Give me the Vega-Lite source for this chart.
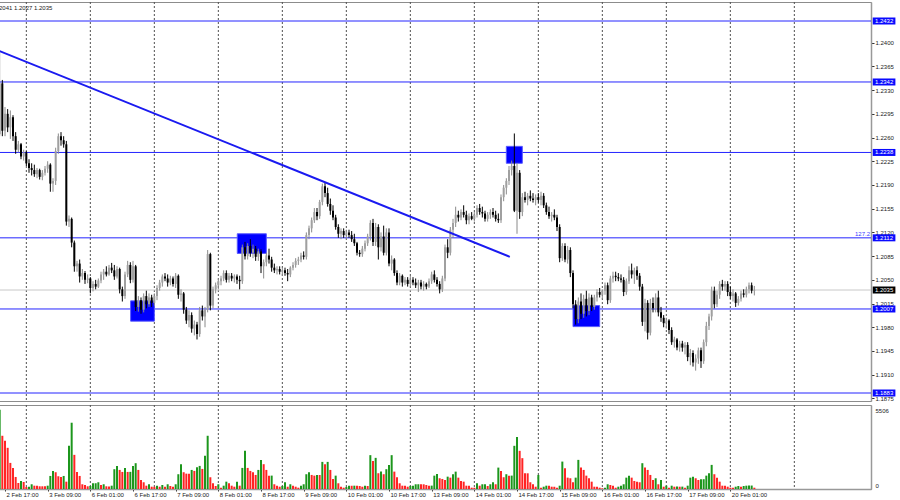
{
"$schema":"https://vega.github.io/schema/vega-lite/v6.json",
"padding":{"left":-6,"top":1,"right":0,"bottom":0},
"background":"white",
"spacing":2,
"config":{"view":{"stroke":"#8c8c8c","strokeWidth":1},"font":"Liberation Sans",
"axis":{"labelFont":"Liberation Sans","labelFontSize":6,"labelColor":"#1a1a1a","tickColor":"#333333","domain":false,"grid":false}},
"resolve":{"scale":{"x":"independent","y":"independent","color":"independent"}},
"datasets":{
"grid":[{"g":8},{"g":32},{"g":56},{"g":80},{"g":104},{"g":128},{"g":152},{"g":176},{"g":200},{"g":224},{"g":248},{"g":272},{"g":296}],
"levels":[{"p":1.2432,"t":"1.2432","k":"lvl"},{"p":1.2342,"t":"1.2342","k":"lvl"},{"p":1.2238,"t":"1.2238","k":"lvl"},{"p":1.2112,"t":"1.2112","k":"lvl"},{"p":1.2007,"t":"1.2007","k":"lvl"},{"p":1.1883,"t":"1.1883","k":"lvl"},{"p":1.2035,"t":"1.2035","k":"cur"}],
"boxes":[{"i1":47.1,"i2":56.0,"p1":1.2019,"p2":1.1989},{"i1":87.1,"i2":98.0,"p1":1.2118,"p2":1.2089},{"i1":188.0,"i2":194.0,"p1":1.2247,"p2":1.2222},{"i1":213.0,"i2":223.0,"p1":1.2012,"p2":1.1981}],
"trend":[{"i":-2.25,"p":1.2388},{"i":189.3,"p":1.2084}],
"bars":[
{"i":-2,"o":1.2265,"h":1.2387,"l":1.2262,"c":1.2340,"v":5506,"vd":"u"},
{"i":-1,"o":1.2340,"h":1.2345,"l":1.2262,"c":1.2270,"v":3694,"vd":"d"},
{"i":0,"o":1.2270,"h":1.2305,"l":1.2262,"c":1.2295,"v":3346,"vd":"d"},
{"i":1,"o":1.2295,"h":1.2302,"l":1.2268,"c":1.2275,"v":2858,"vd":"d"},
{"i":2,"o":1.2275,"h":1.2300,"l":1.2258,"c":1.2290,"v":1812,"vd":"d"},
{"i":3,"o":1.2290,"h":1.2293,"l":1.2255,"c":1.2262,"v":1464,"vd":"d"},
{"i":4,"o":1.2262,"h":1.2268,"l":1.2236,"c":1.2242,"v":836,"vd":"d"},
{"i":5,"o":1.2242,"h":1.2255,"l":1.2238,"c":1.2250,"v":418,"vd":"d"},
{"i":6,"o":1.2250,"h":1.2252,"l":1.2228,"c":1.2232,"v":558,"vd":"u"},
{"i":7,"o":1.2232,"h":1.2242,"l":1.2226,"c":1.2238,"v":488,"vd":"d"},
{"i":8,"o":1.2238,"h":1.2240,"l":1.2218,"c":1.2222,"v":140,"vd":"d"},
{"i":9,"o":1.2222,"h":1.2228,"l":1.2208,"c":1.2215,"v":160,"vd":"u"},
{"i":10,"o":1.2215,"h":1.2222,"l":1.2204,"c":1.2212,"v":328,"vd":"u"},
{"i":11,"o":1.2212,"h":1.2220,"l":1.2202,"c":1.2206,"v":230,"vd":"d"},
{"i":12,"o":1.2206,"h":1.2215,"l":1.2200,"c":1.2212,"v":230,"vd":"d"},
{"i":13,"o":1.2212,"h":1.2214,"l":1.2198,"c":1.2202,"v":188,"vd":"d"},
{"i":14,"o":1.2202,"h":1.2212,"l":1.2197,"c":1.2208,"v":188,"vd":"d"},
{"i":15,"o":1.2208,"h":1.2218,"l":1.2204,"c":1.2214,"v":188,"vd":"d"},
{"i":16,"o":1.2214,"h":1.2225,"l":1.2208,"c":1.2220,"v":230,"vd":"u"},
{"i":17,"o":1.2220,"h":1.2222,"l":1.2180,"c":1.2192,"v":906,"vd":"u"},
{"i":18,"o":1.2192,"h":1.2200,"l":1.2180,"c":1.2196,"v":1255,"vd":"u"},
{"i":19,"o":1.2196,"h":1.2245,"l":1.2190,"c":1.2240,"v":1164,"vd":"d"},
{"i":20,"o":1.2240,"h":1.2266,"l":1.2236,"c":1.2262,"v":885,"vd":"d"},
{"i":21,"o":1.2262,"h":1.2268,"l":1.2248,"c":1.2256,"v":836,"vd":"d"},
{"i":22,"o":1.2256,"h":1.2262,"l":1.2245,"c":1.2250,"v":906,"vd":"u"},
{"i":23,"o":1.2250,"h":1.2255,"l":1.2130,"c":1.2136,"v":509,"vd":"d"},
{"i":24,"o":1.2136,"h":1.2145,"l":1.2128,"c":1.2140,"v":2997,"vd":"u"},
{"i":25,"o":1.2140,"h":1.2142,"l":1.2098,"c":1.2105,"v":4600,"vd":"u"},
{"i":26,"o":1.2105,"h":1.2108,"l":1.2062,"c":1.2070,"v":2370,"vd":"d"},
{"i":27,"o":1.2070,"h":1.2078,"l":1.2062,"c":1.2074,"v":1185,"vd":"d"},
{"i":28,"o":1.2074,"h":1.2080,"l":1.2046,"c":1.2055,"v":906,"vd":"d"},
{"i":29,"o":1.2055,"h":1.2066,"l":1.2050,"c":1.2060,"v":328,"vd":"d"},
{"i":30,"o":1.2060,"h":1.2063,"l":1.2044,"c":1.2050,"v":279,"vd":"d"},
{"i":31,"o":1.2050,"h":1.2058,"l":1.2045,"c":1.2052,"v":188,"vd":"d"},
{"i":32,"o":1.2052,"h":1.2054,"l":1.2030,"c":1.2038,"v":209,"vd":"u"},
{"i":33,"o":1.2038,"h":1.2048,"l":1.2033,"c":1.2044,"v":397,"vd":"u"},
{"i":34,"o":1.2044,"h":1.2050,"l":1.2036,"c":1.2040,"v":400,"vd":"u"},
{"i":35,"o":1.2040,"h":1.2052,"l":1.2038,"c":1.2049,"v":467,"vd":"u"},
{"i":36,"o":1.2049,"h":1.2062,"l":1.2045,"c":1.2058,"v":279,"vd":"d"},
{"i":37,"o":1.2058,"h":1.2066,"l":1.2050,"c":1.2062,"v":328,"vd":"u"},
{"i":38,"o":1.2062,"h":1.2070,"l":1.2055,"c":1.2058,"v":188,"vd":"d"},
{"i":39,"o":1.2058,"h":1.2072,"l":1.2056,"c":1.2068,"v":180,"vd":"d"},
{"i":40,"o":1.2068,"h":1.2075,"l":1.2060,"c":1.2064,"v":230,"vd":"u"},
{"i":41,"o":1.2064,"h":1.2072,"l":1.2050,"c":1.2055,"v":1373,"vd":"u"},
{"i":42,"o":1.2055,"h":1.2070,"l":1.2052,"c":1.2066,"v":1603,"vd":"u"},
{"i":43,"o":1.2066,"h":1.2068,"l":1.2030,"c":1.2036,"v":1324,"vd":"d"},
{"i":44,"o":1.2036,"h":1.2040,"l":1.2018,"c":1.2026,"v":1185,"vd":"d"},
{"i":45,"o":1.2026,"h":1.2062,"l":1.2022,"c":1.2058,"v":1464,"vd":"u"},
{"i":46,"o":1.2058,"h":1.2078,"l":1.2054,"c":1.2072,"v":1185,"vd":"d"},
{"i":47,"o":1.2072,"h":1.2076,"l":1.2045,"c":1.2050,"v":1190,"vd":"u"},
{"i":48,"o":1.2050,"h":1.2078,"l":1.2046,"c":1.2070,"v":1603,"vd":"u"},
{"i":49,"o":1.2070,"h":1.2072,"l":1.2004,"c":1.2010,"v":1791,"vd":"u"},
{"i":50,"o":1.2010,"h":1.2026,"l":1.2003,"c":1.2020,"v":1324,"vd":"d"},
{"i":51,"o":1.2020,"h":1.2024,"l":1.2000,"c":1.2006,"v":627,"vd":"d"},
{"i":52,"o":1.2006,"h":1.2030,"l":1.2002,"c":1.2026,"v":467,"vd":"d"},
{"i":53,"o":1.2026,"h":1.2034,"l":1.2008,"c":1.2014,"v":230,"vd":"d"},
{"i":54,"o":1.2014,"h":1.2030,"l":1.2010,"c":1.2024,"v":328,"vd":"u"},
{"i":55,"o":1.2024,"h":1.2028,"l":1.2010,"c":1.2016,"v":160,"vd":"d"},
{"i":56,"o":1.2016,"h":1.2030,"l":1.2012,"c":1.2026,"v":155,"vd":"d"},
{"i":57,"o":1.2026,"h":1.2042,"l":1.2020,"c":1.2038,"v":230,"vd":"u"},
{"i":58,"o":1.2038,"h":1.2050,"l":1.2034,"c":1.2046,"v":160,"vd":"d"},
{"i":59,"o":1.2046,"h":1.2058,"l":1.2040,"c":1.2055,"v":279,"vd":"u"},
{"i":60,"o":1.2055,"h":1.2060,"l":1.2048,"c":1.2052,"v":160,"vd":"d"},
{"i":61,"o":1.2052,"h":1.2058,"l":1.2040,"c":1.2046,"v":328,"vd":"u"},
{"i":62,"o":1.2046,"h":1.2056,"l":1.2042,"c":1.2052,"v":209,"vd":"d"},
{"i":63,"o":1.2052,"h":1.2055,"l":1.2040,"c":1.2044,"v":160,"vd":"d"},
{"i":64,"o":1.2044,"h":1.2060,"l":1.2038,"c":1.2056,"v":328,"vd":"u"},
{"i":65,"o":1.2056,"h":1.2058,"l":1.2022,"c":1.2028,"v":1025,"vd":"u"},
{"i":66,"o":1.2028,"h":1.2036,"l":1.2018,"c":1.2030,"v":1722,"vd":"u"},
{"i":67,"o":1.2030,"h":1.2032,"l":1.2000,"c":1.2006,"v":1164,"vd":"d"},
{"i":68,"o":1.2006,"h":1.2010,"l":1.1985,"c":1.1990,"v":1066,"vd":"d"},
{"i":69,"o":1.1990,"h":1.2005,"l":1.1980,"c":1.1998,"v":1060,"vd":"d"},
{"i":70,"o":1.1998,"h":1.2002,"l":1.1972,"c":1.1978,"v":1324,"vd":"u"},
{"i":71,"o":1.1978,"h":1.1990,"l":1.1968,"c":1.1984,"v":1255,"vd":"d"},
{"i":72,"o":1.1984,"h":1.1988,"l":1.1962,"c":1.1970,"v":1512,"vd":"u"},
{"i":73,"o":1.1970,"h":1.2010,"l":1.1966,"c":1.2005,"v":1603,"vd":"u"},
{"i":74,"o":1.2005,"h":1.2012,"l":1.1990,"c":1.1996,"v":1394,"vd":"d"},
{"i":75,"o":1.1996,"h":1.2010,"l":1.1980,"c":1.2006,"v":2300,"vd":"u"},
{"i":76,"o":1.2006,"h":1.2094,"l":1.2002,"c":1.2088,"v":3694,"vd":"u"},
{"i":77,"o":1.2088,"h":1.2090,"l":1.2005,"c":1.2012,"v":816,"vd":"d"},
{"i":78,"o":1.2012,"h":1.2040,"l":1.2008,"c":1.2036,"v":397,"vd":"d"},
{"i":79,"o":1.2036,"h":1.2046,"l":1.2030,"c":1.2042,"v":209,"vd":"d"},
{"i":80,"o":1.2042,"h":1.2052,"l":1.2036,"c":1.2048,"v":328,"vd":"u"},
{"i":81,"o":1.2048,"h":1.2056,"l":1.2042,"c":1.2052,"v":91,"vd":"d"},
{"i":82,"o":1.2052,"h":1.2064,"l":1.2048,"c":1.2060,"v":230,"vd":"u"},
{"i":83,"o":1.2060,"h":1.2064,"l":1.2046,"c":1.2050,"v":509,"vd":"u"},
{"i":84,"o":1.2050,"h":1.2060,"l":1.2046,"c":1.2056,"v":397,"vd":"d"},
{"i":85,"o":1.2056,"h":1.2060,"l":1.2048,"c":1.2052,"v":230,"vd":"d"},
{"i":86,"o":1.2052,"h":1.2058,"l":1.2046,"c":1.2055,"v":160,"vd":"d"},
{"i":87,"o":1.2055,"h":1.2058,"l":1.2044,"c":1.2050,"v":509,"vd":"u"},
{"i":88,"o":1.2050,"h":1.2056,"l":1.2036,"c":1.2048,"v":230,"vd":"d"},
{"i":89,"o":1.2048,"h":1.2102,"l":1.2044,"c":1.2098,"v":1464,"vd":"u"},
{"i":90,"o":1.2098,"h":1.2106,"l":1.2080,"c":1.2085,"v":2649,"vd":"u"},
{"i":91,"o":1.2085,"h":1.2104,"l":1.2080,"c":1.2100,"v":1464,"vd":"d"},
{"i":92,"o":1.2100,"h":1.2110,"l":1.2084,"c":1.2090,"v":1255,"vd":"d"},
{"i":93,"o":1.2090,"h":1.2102,"l":1.2082,"c":1.2096,"v":1164,"vd":"d"},
{"i":94,"o":1.2096,"h":1.2100,"l":1.2078,"c":1.2084,"v":976,"vd":"d"},
{"i":95,"o":1.2084,"h":1.2096,"l":1.2078,"c":1.2092,"v":1324,"vd":"u"},
{"i":96,"o":1.2092,"h":1.2095,"l":1.2060,"c":1.2070,"v":2021,"vd":"u"},
{"i":97,"o":1.2070,"h":1.2080,"l":1.2052,"c":1.2076,"v":1722,"vd":"d"},
{"i":98,"o":1.2076,"h":1.2090,"l":1.2070,"c":1.2086,"v":1324,"vd":"d"},
{"i":99,"o":1.2086,"h":1.2096,"l":1.2074,"c":1.2080,"v":927,"vd":"d"},
{"i":100,"o":1.2080,"h":1.2084,"l":1.2062,"c":1.2068,"v":930,"vd":"u"},
{"i":101,"o":1.2068,"h":1.2074,"l":1.2060,"c":1.2064,"v":328,"vd":"d"},
{"i":102,"o":1.2064,"h":1.2070,"l":1.2058,"c":1.2066,"v":230,"vd":"d"},
{"i":103,"o":1.2066,"h":1.2070,"l":1.2058,"c":1.2062,"v":160,"vd":"d"},
{"i":104,"o":1.2062,"h":1.2068,"l":1.2056,"c":1.2064,"v":209,"vd":"u"},
{"i":105,"o":1.2064,"h":1.2068,"l":1.2056,"c":1.2060,"v":467,"vd":"u"},
{"i":106,"o":1.2060,"h":1.2066,"l":1.2048,"c":1.2058,"v":160,"vd":"d"},
{"i":107,"o":1.2058,"h":1.2070,"l":1.2054,"c":1.2068,"v":328,"vd":"u"},
{"i":108,"o":1.2068,"h":1.2076,"l":1.2064,"c":1.2072,"v":230,"vd":"d"},
{"i":109,"o":1.2072,"h":1.2082,"l":1.2068,"c":1.2078,"v":160,"vd":"d"},
{"i":110,"o":1.2078,"h":1.2084,"l":1.2072,"c":1.2080,"v":91,"vd":"d"},
{"i":111,"o":1.2080,"h":1.2090,"l":1.2076,"c":1.2086,"v":230,"vd":"u"},
{"i":112,"o":1.2086,"h":1.2092,"l":1.2080,"c":1.2084,"v":328,"vd":"u"},
{"i":113,"o":1.2084,"h":1.2120,"l":1.2080,"c":1.2116,"v":1025,"vd":"u"},
{"i":114,"o":1.2116,"h":1.2130,"l":1.2110,"c":1.2126,"v":1164,"vd":"u"},
{"i":115,"o":1.2126,"h":1.2142,"l":1.2120,"c":1.2138,"v":976,"vd":"d"},
{"i":116,"o":1.2138,"h":1.2156,"l":1.2134,"c":1.2150,"v":927,"vd":"d"},
{"i":117,"o":1.2150,"h":1.2156,"l":1.2138,"c":1.2144,"v":976,"vd":"u"},
{"i":118,"o":1.2144,"h":1.2168,"l":1.2140,"c":1.2165,"v":970,"vd":"d"},
{"i":119,"o":1.2165,"h":1.2192,"l":1.2160,"c":1.2188,"v":1882,"vd":"u"},
{"i":120,"o":1.2188,"h":1.2194,"l":1.2172,"c":1.2178,"v":1722,"vd":"d"},
{"i":121,"o":1.2178,"h":1.2186,"l":1.2158,"c":1.2162,"v":1882,"vd":"u"},
{"i":122,"o":1.2162,"h":1.2170,"l":1.2146,"c":1.2152,"v":1324,"vd":"d"},
{"i":123,"o":1.2152,"h":1.2160,"l":1.2138,"c":1.2142,"v":697,"vd":"d"},
{"i":124,"o":1.2142,"h":1.2146,"l":1.2124,"c":1.2128,"v":927,"vd":"u"},
{"i":125,"o":1.2128,"h":1.2132,"l":1.2112,"c":1.2118,"v":397,"vd":"d"},
{"i":126,"o":1.2118,"h":1.2126,"l":1.2110,"c":1.2122,"v":160,"vd":"d"},
{"i":127,"o":1.2122,"h":1.2126,"l":1.2112,"c":1.2116,"v":91,"vd":"d"},
{"i":128,"o":1.2116,"h":1.2124,"l":1.2110,"c":1.2120,"v":140,"vd":"u"},
{"i":129,"o":1.2120,"h":1.2124,"l":1.2112,"c":1.2116,"v":230,"vd":"u"},
{"i":130,"o":1.2116,"h":1.2122,"l":1.2106,"c":1.2110,"v":225,"vd":"d"},
{"i":131,"o":1.2110,"h":1.2118,"l":1.2100,"c":1.2104,"v":230,"vd":"u"},
{"i":132,"o":1.2104,"h":1.2106,"l":1.2086,"c":1.2090,"v":225,"vd":"d"},
{"i":133,"o":1.2090,"h":1.2094,"l":1.2084,"c":1.2088,"v":209,"vd":"d"},
{"i":134,"o":1.2088,"h":1.2100,"l":1.2084,"c":1.2096,"v":160,"vd":"d"},
{"i":135,"o":1.2096,"h":1.2108,"l":1.2092,"c":1.2104,"v":230,"vd":"u"},
{"i":136,"o":1.2104,"h":1.2118,"l":1.2100,"c":1.2114,"v":209,"vd":"d"},
{"i":137,"o":1.2114,"h":1.2138,"l":1.2108,"c":1.2134,"v":2349,"vd":"u"},
{"i":138,"o":1.2134,"h":1.2140,"l":1.2100,"c":1.2106,"v":1952,"vd":"d"},
{"i":139,"o":1.2106,"h":1.2134,"l":1.2100,"c":1.2128,"v":2161,"vd":"u"},
{"i":140,"o":1.2128,"h":1.2132,"l":1.2080,"c":1.2098,"v":1094,"vd":"d"},
{"i":141,"o":1.2098,"h":1.2120,"l":1.2092,"c":1.2114,"v":1206,"vd":"u"},
{"i":142,"o":1.2114,"h":1.2130,"l":1.2086,"c":1.2090,"v":1025,"vd":"d"},
{"i":143,"o":1.2090,"h":1.2126,"l":1.2086,"c":1.2120,"v":1373,"vd":"u"},
{"i":144,"o":1.2120,"h":1.2126,"l":1.2070,"c":1.2074,"v":1673,"vd":"u"},
{"i":145,"o":1.2074,"h":1.2086,"l":1.2064,"c":1.2080,"v":2349,"vd":"u"},
{"i":146,"o":1.2080,"h":1.2082,"l":1.2056,"c":1.2060,"v":1206,"vd":"d"},
{"i":147,"o":1.2060,"h":1.2064,"l":1.2042,"c":1.2046,"v":816,"vd":"d"},
{"i":148,"o":1.2046,"h":1.2060,"l":1.2042,"c":1.2056,"v":397,"vd":"d"},
{"i":149,"o":1.2056,"h":1.2058,"l":1.2040,"c":1.2046,"v":230,"vd":"d"},
{"i":150,"o":1.2046,"h":1.2054,"l":1.2042,"c":1.2050,"v":225,"vd":"d"},
{"i":151,"o":1.2050,"h":1.2054,"l":1.2040,"c":1.2044,"v":160,"vd":"d"},
{"i":152,"o":1.2044,"h":1.2056,"l":1.2040,"c":1.2050,"v":209,"vd":"u"},
{"i":153,"o":1.2050,"h":1.2054,"l":1.2042,"c":1.2046,"v":230,"vd":"u"},
{"i":154,"o":1.2046,"h":1.2052,"l":1.2038,"c":1.2042,"v":328,"vd":"u"},
{"i":155,"o":1.2042,"h":1.2050,"l":1.2032,"c":1.2046,"v":330,"vd":"u"},
{"i":156,"o":1.2046,"h":1.2050,"l":1.2036,"c":1.2040,"v":328,"vd":"d"},
{"i":157,"o":1.2040,"h":1.2048,"l":1.2034,"c":1.2044,"v":325,"vd":"d"},
{"i":158,"o":1.2044,"h":1.2046,"l":1.2036,"c":1.2040,"v":279,"vd":"d"},
{"i":159,"o":1.2040,"h":1.2052,"l":1.2038,"c":1.2048,"v":230,"vd":"d"},
{"i":160,"o":1.2048,"h":1.2062,"l":1.2044,"c":1.2058,"v":235,"vd":"u"},
{"i":161,"o":1.2058,"h":1.2064,"l":1.2046,"c":1.2050,"v":927,"vd":"u"},
{"i":162,"o":1.2050,"h":1.2054,"l":1.2040,"c":1.2044,"v":1046,"vd":"u"},
{"i":163,"o":1.2044,"h":1.2048,"l":1.2030,"c":1.2036,"v":746,"vd":"d"},
{"i":164,"o":1.2036,"h":1.2056,"l":1.2032,"c":1.2052,"v":697,"vd":"d"},
{"i":165,"o":1.2052,"h":1.2102,"l":1.2048,"c":1.2098,"v":627,"vd":"d"},
{"i":166,"o":1.2098,"h":1.2110,"l":1.2082,"c":1.2090,"v":857,"vd":"u"},
{"i":167,"o":1.2090,"h":1.2128,"l":1.2086,"c":1.2124,"v":788,"vd":"d"},
{"i":168,"o":1.2124,"h":1.2140,"l":1.2112,"c":1.2134,"v":1025,"vd":"u"},
{"i":169,"o":1.2134,"h":1.2158,"l":1.2128,"c":1.2146,"v":1206,"vd":"u"},
{"i":170,"o":1.2146,"h":1.2152,"l":1.2136,"c":1.2142,"v":788,"vd":"d"},
{"i":171,"o":1.2142,"h":1.2154,"l":1.2138,"c":1.2150,"v":558,"vd":"d"},
{"i":172,"o":1.2150,"h":1.2160,"l":1.2142,"c":1.2146,"v":509,"vd":"d"},
{"i":173,"o":1.2146,"h":1.2152,"l":1.2132,"c":1.2138,"v":230,"vd":"d"},
{"i":174,"o":1.2138,"h":1.2148,"l":1.2132,"c":1.2144,"v":225,"vd":"d"},
{"i":175,"o":1.2144,"h":1.2150,"l":1.2138,"c":1.2140,"v":91,"vd":"d"},
{"i":176,"o":1.2140,"h":1.2150,"l":1.2136,"c":1.2146,"v":88,"vd":"d"},
{"i":177,"o":1.2146,"h":1.2160,"l":1.2142,"c":1.2156,"v":397,"vd":"u"},
{"i":178,"o":1.2156,"h":1.2162,"l":1.2146,"c":1.2150,"v":230,"vd":"d"},
{"i":179,"o":1.2150,"h":1.2158,"l":1.2142,"c":1.2148,"v":328,"vd":"u"},
{"i":180,"o":1.2148,"h":1.2152,"l":1.2136,"c":1.2140,"v":330,"vd":"u"},
{"i":181,"o":1.2140,"h":1.2150,"l":1.2136,"c":1.2146,"v":209,"vd":"d"},
{"i":182,"o":1.2146,"h":1.2154,"l":1.2140,"c":1.2150,"v":328,"vd":"u"},
{"i":183,"o":1.2150,"h":1.2156,"l":1.2142,"c":1.2146,"v":467,"vd":"u"},
{"i":184,"o":1.2146,"h":1.2152,"l":1.2136,"c":1.2140,"v":328,"vd":"d"},
{"i":185,"o":1.2140,"h":1.2148,"l":1.2134,"c":1.2138,"v":1485,"vd":"u"},
{"i":186,"o":1.2138,"h":1.2176,"l":1.2134,"c":1.2172,"v":1255,"vd":"d"},
{"i":187,"o":1.2172,"h":1.2190,"l":1.2166,"c":1.2186,"v":816,"vd":"d"},
{"i":188,"o":1.2186,"h":1.2200,"l":1.2176,"c":1.2196,"v":1025,"vd":"u"},
{"i":189,"o":1.2196,"h":1.2218,"l":1.2190,"c":1.2212,"v":927,"vd":"d"},
{"i":190,"o":1.2212,"h":1.2226,"l":1.2204,"c":1.2218,"v":930,"vd":"u"},
{"i":191,"o":1.2218,"h":1.2266,"l":1.2150,"c":1.2152,"v":2997,"vd":"u"},
{"i":192,"o":1.2152,"h":1.2222,"l":1.2118,"c":1.2208,"v":3603,"vd":"u"},
{"i":193,"o":1.2208,"h":1.2212,"l":1.2140,"c":1.2150,"v":2649,"vd":"d"},
{"i":194,"o":1.2150,"h":1.2178,"l":1.2144,"c":1.2172,"v":2140,"vd":"d"},
{"i":195,"o":1.2172,"h":1.2180,"l":1.2164,"c":1.2168,"v":1094,"vd":"d"},
{"i":196,"o":1.2168,"h":1.2178,"l":1.2160,"c":1.2174,"v":1090,"vd":"d"},
{"i":197,"o":1.2174,"h":1.2182,"l":1.2166,"c":1.2170,"v":467,"vd":"d"},
{"i":198,"o":1.2170,"h":1.2178,"l":1.2164,"c":1.2168,"v":328,"vd":"d"},
{"i":199,"o":1.2168,"h":1.2176,"l":1.2160,"c":1.2172,"v":160,"vd":"d"},
{"i":200,"o":1.2172,"h":1.2178,"l":1.2164,"c":1.2168,"v":976,"vd":"u"},
{"i":201,"o":1.2168,"h":1.2180,"l":1.2160,"c":1.2174,"v":91,"vd":"d"},
{"i":202,"o":1.2174,"h":1.2178,"l":1.2156,"c":1.2160,"v":160,"vd":"u"},
{"i":203,"o":1.2160,"h":1.2164,"l":1.2146,"c":1.2150,"v":230,"vd":"u"},
{"i":204,"o":1.2150,"h":1.2158,"l":1.2140,"c":1.2144,"v":225,"vd":"d"},
{"i":205,"o":1.2144,"h":1.2150,"l":1.2136,"c":1.2146,"v":160,"vd":"d"},
{"i":206,"o":1.2146,"h":1.2154,"l":1.2138,"c":1.2142,"v":155,"vd":"d"},
{"i":207,"o":1.2142,"h":1.2146,"l":1.2122,"c":1.2128,"v":91,"vd":"d"},
{"i":208,"o":1.2128,"h":1.2132,"l":1.2076,"c":1.2082,"v":230,"vd":"u"},
{"i":209,"o":1.2082,"h":1.2104,"l":1.2078,"c":1.2100,"v":1903,"vd":"u"},
{"i":210,"o":1.2100,"h":1.2104,"l":1.2076,"c":1.2080,"v":1443,"vd":"d"},
{"i":211,"o":1.2080,"h":1.2100,"l":1.2074,"c":1.2094,"v":788,"vd":"d"},
{"i":212,"o":1.2094,"h":1.2098,"l":1.2054,"c":1.2060,"v":746,"vd":"d"},
{"i":213,"o":1.2060,"h":1.2064,"l":1.2008,"c":1.2014,"v":467,"vd":"d"},
{"i":214,"o":1.2014,"h":1.2020,"l":1.1984,"c":1.1992,"v":788,"vd":"u"},
{"i":215,"o":1.1992,"h":1.2024,"l":1.1986,"c":1.2018,"v":2021,"vd":"u"},
{"i":216,"o":1.2018,"h":1.2030,"l":1.1992,"c":1.2000,"v":1485,"vd":"d"},
{"i":217,"o":1.2000,"h":1.2028,"l":1.1994,"c":1.2022,"v":1324,"vd":"d"},
{"i":218,"o":1.2022,"h":1.2034,"l":1.1996,"c":1.2004,"v":927,"vd":"d"},
{"i":219,"o":1.2004,"h":1.2030,"l":1.1998,"c":1.2024,"v":746,"vd":"d"},
{"i":220,"o":1.2024,"h":1.2028,"l":1.2004,"c":1.2010,"v":509,"vd":"d"},
{"i":221,"o":1.2010,"h":1.2028,"l":1.2006,"c":1.2024,"v":160,"vd":"d"},
{"i":222,"o":1.2024,"h":1.2036,"l":1.2018,"c":1.2032,"v":155,"vd":"d"},
{"i":223,"o":1.2032,"h":1.2038,"l":1.2024,"c":1.2028,"v":91,"vd":"d"},
{"i":224,"o":1.2028,"h":1.2036,"l":1.2022,"c":1.2034,"v":49,"vd":"d"},
{"i":225,"o":1.2034,"h":1.2046,"l":1.2028,"c":1.2042,"v":91,"vd":"u"},
{"i":226,"o":1.2042,"h":1.2046,"l":1.2014,"c":1.2020,"v":328,"vd":"u"},
{"i":227,"o":1.2020,"h":1.2056,"l":1.2016,"c":1.2052,"v":279,"vd":"d"},
{"i":228,"o":1.2052,"h":1.2062,"l":1.2046,"c":1.2056,"v":230,"vd":"d"},
{"i":229,"o":1.2056,"h":1.2062,"l":1.2048,"c":1.2054,"v":91,"vd":"d"},
{"i":230,"o":1.2054,"h":1.2060,"l":1.2048,"c":1.2052,"v":160,"vd":"u"},
{"i":231,"o":1.2052,"h":1.2058,"l":1.2046,"c":1.2050,"v":230,"vd":"u"},
{"i":232,"o":1.2050,"h":1.2054,"l":1.2026,"c":1.2032,"v":328,"vd":"u"},
{"i":233,"o":1.2032,"h":1.2052,"l":1.2028,"c":1.2048,"v":788,"vd":"u"},
{"i":234,"o":1.2048,"h":1.2070,"l":1.2044,"c":1.2064,"v":927,"vd":"u"},
{"i":235,"o":1.2064,"h":1.2074,"l":1.2052,"c":1.2058,"v":788,"vd":"d"},
{"i":236,"o":1.2058,"h":1.2068,"l":1.2044,"c":1.2064,"v":558,"vd":"d"},
{"i":237,"o":1.2064,"h":1.2070,"l":1.2050,"c":1.2056,"v":509,"vd":"d"},
{"i":238,"o":1.2056,"h":1.2060,"l":1.2034,"c":1.2040,"v":467,"vd":"d"},
{"i":239,"o":1.2040,"h":1.2044,"l":1.1982,"c":1.1988,"v":1791,"vd":"u"},
{"i":240,"o":1.1988,"h":1.2022,"l":1.1974,"c":1.2016,"v":1485,"vd":"d"},
{"i":241,"o":1.2016,"h":1.2020,"l":1.1962,"c":1.1972,"v":1324,"vd":"d"},
{"i":242,"o":1.1972,"h":1.2022,"l":1.1968,"c":1.2016,"v":976,"vd":"d"},
{"i":243,"o":1.2016,"h":1.2024,"l":1.2002,"c":1.2008,"v":627,"vd":"d"},
{"i":244,"o":1.2008,"h":1.2030,"l":1.2002,"c":1.2024,"v":746,"vd":"u"},
{"i":245,"o":1.2024,"h":1.2034,"l":1.1996,"c":1.2002,"v":328,"vd":"d"},
{"i":246,"o":1.2002,"h":1.2010,"l":1.1988,"c":1.1994,"v":627,"vd":"u"},
{"i":247,"o":1.1994,"h":1.1998,"l":1.1980,"c":1.1986,"v":160,"vd":"d"},
{"i":248,"o":1.1986,"h":1.1994,"l":1.1978,"c":1.1990,"v":230,"vd":"u"},
{"i":249,"o":1.1990,"h":1.1992,"l":1.1970,"c":1.1976,"v":91,"vd":"d"},
{"i":250,"o":1.1976,"h":1.1980,"l":1.1954,"c":1.1958,"v":230,"vd":"u"},
{"i":251,"o":1.1958,"h":1.1966,"l":1.1950,"c":1.1962,"v":160,"vd":"d"},
{"i":252,"o":1.1962,"h":1.1964,"l":1.1946,"c":1.1950,"v":165,"vd":"u"},
{"i":253,"o":1.1950,"h":1.1960,"l":1.1944,"c":1.1956,"v":160,"vd":"d"},
{"i":254,"o":1.1956,"h":1.1960,"l":1.1944,"c":1.1950,"v":165,"vd":"u"},
{"i":255,"o":1.1950,"h":1.1958,"l":1.1940,"c":1.1954,"v":91,"vd":"d"},
{"i":256,"o":1.1954,"h":1.1958,"l":1.1930,"c":1.1936,"v":230,"vd":"u"},
{"i":257,"o":1.1936,"h":1.1948,"l":1.1924,"c":1.1942,"v":788,"vd":"u"},
{"i":258,"o":1.1942,"h":1.1946,"l":1.1922,"c":1.1928,"v":857,"vd":"u"},
{"i":259,"o":1.1928,"h":1.1940,"l":1.1916,"c":1.1934,"v":746,"vd":"d"},
{"i":260,"o":1.1934,"h":1.1950,"l":1.1926,"c":1.1946,"v":627,"vd":"d"},
{"i":261,"o":1.1946,"h":1.1950,"l":1.1920,"c":1.1930,"v":676,"vd":"u"},
{"i":262,"o":1.1930,"h":1.1962,"l":1.1926,"c":1.1958,"v":680,"vd":"u"},
{"i":263,"o":1.1958,"h":1.1988,"l":1.1952,"c":1.1982,"v":927,"vd":"u"},
{"i":264,"o":1.1982,"h":1.2000,"l":1.1976,"c":1.1996,"v":1094,"vd":"u"},
{"i":265,"o":1.1996,"h":1.2040,"l":1.1990,"c":1.2034,"v":1673,"vd":"u"},
{"i":266,"o":1.2034,"h":1.2040,"l":1.2008,"c":1.2014,"v":1025,"vd":"d"},
{"i":267,"o":1.2014,"h":1.2034,"l":1.2010,"c":1.2028,"v":788,"vd":"d"},
{"i":268,"o":1.2028,"h":1.2048,"l":1.2022,"c":1.2044,"v":509,"vd":"d"},
{"i":269,"o":1.2044,"h":1.2050,"l":1.2034,"c":1.2040,"v":230,"vd":"d"},
{"i":270,"o":1.2040,"h":1.2048,"l":1.2034,"c":1.2044,"v":225,"vd":"d"},
{"i":271,"o":1.2044,"h":1.2048,"l":1.2026,"c":1.2032,"v":160,"vd":"d"},
{"i":272,"o":1.2032,"h":1.2040,"l":1.2022,"c":1.2026,"v":91,"vd":"d"},
{"i":273,"o":1.2026,"h":1.2036,"l":1.2018,"c":1.2030,"v":88,"vd":"d"},
{"i":274,"o":1.2030,"h":1.2032,"l":1.2010,"c":1.2016,"v":160,"vd":"u"},
{"i":275,"o":1.2016,"h":1.2026,"l":1.2012,"c":1.2022,"v":209,"vd":"u"},
{"i":276,"o":1.2022,"h":1.2034,"l":1.2018,"c":1.2030,"v":160,"vd":"d"},
{"i":277,"o":1.2030,"h":1.2036,"l":1.2024,"c":1.2028,"v":209,"vd":"u"},
{"i":278,"o":1.2028,"h":1.2040,"l":1.2024,"c":1.2036,"v":230,"vd":"u"},
{"i":279,"o":1.2036,"h":1.2046,"l":1.2030,"c":1.2042,"v":235,"vd":"u"},
{"i":280,"o":1.2042,"h":1.2046,"l":1.2030,"c":1.2034,"v":240,"vd":"u"},
{"i":281,"o":1.2034,"h":1.2041,"l":1.2027,"c":1.2035,"v":91,"vd":"d"}
]},
"vconcat":[
{"width":872,"height":399,
"resolve":{"axis":{"x":"independent","y":"independent"}},
"layer":[
{"data":{"name":"grid"},"mark":{"type":"rule","strokeDash":[2,2],"color":"#505050","strokeWidth":1},
 "encoding":{"x":{"field":"g","type":"quantitative","scale":{"domain":[-2.25,324.75],"nice":false,"zero":false},"axis":null}}},
{"data":{"name":"levels"},"mark":{"type":"rule","strokeWidth":1},
 "encoding":{"y":{"field":"p","type":"quantitative","scale":{"domain":[1.18712,1.246004],"nice":false,"zero":false},"axis":null},
 "color":{"condition":{"test":"datum.k=='cur'","value":"#c8c8c8"},"value":"#2424ff"}}},
{"data":{"name":"boxes"},"mark":{"type":"rect","fill":"#0000ff","stroke":"#5a5aff","strokeWidth":1},
 "encoding":{"x":{"field":"i1","type":"quantitative","scale":{"domain":[-2.25,324.75],"nice":false,"zero":false},"axis":null},"x2":{"field":"i2"},
 "y":{"field":"p1","type":"quantitative","scale":{"domain":[1.18712,1.246004],"nice":false,"zero":false},"axis":null},"y2":{"field":"p2"}}},
{"data":{"name":"bars"},"mark":{"type":"rule","strokeWidth":1},
 "encoding":{"x":{"field":"i","type":"quantitative","scale":{"domain":[-2.25,324.75],"nice":false,"zero":false},"axis":null},
 "y":{"field":"l","type":"quantitative","title":null,"scale":{"domain":[1.18712,1.246004],"nice":false,"zero":false},
  "axis":{"orient":"right","values":[1.1875,1.191,1.1945,1.198,1.2015,1.205,1.2085,1.212,1.2155,1.219,1.2225,1.226,1.2295,1.233,1.2365,1.24],"format":".4f","tickSize":3,"labelPadding":1,"labelFontSize":6,"zindex":0,"labelOverlap":false,"labelFlush":false,"domain":true,"domainColor":"#999999","domainWidth":1.5}},
 "y2":{"field":"h"},
 "color":{"condition":{"test":"datum.c>=datum.o","value":"#8a8a8a"},"value":"#000000"}}},
{"data":{"name":"bars"},"mark":{"type":"rule","strokeWidth":2,"strokeCap":"butt"},
 "encoding":{"x":{"field":"i","type":"quantitative","scale":{"domain":[-2.25,324.75],"nice":false,"zero":false},"axis":null},
 "y":{"field":"o","type":"quantitative","scale":{"domain":[1.18712,1.246004],"nice":false,"zero":false},"axis":null},
 "y2":{"field":"c"},
 "color":{"condition":{"test":"datum.c>=datum.o","value":"#a0a0a0"},"value":"#000000"}}},
{"data":{"name":"trend"},"mark":{"type":"line","strokeWidth":2,"color":"#1a1af0"},
 "encoding":{"x":{"field":"i","type":"quantitative","scale":{"domain":[-2.25,324.75],"nice":false,"zero":false},"axis":null},
 "y":{"field":"p","type":"quantitative","scale":{"domain":[1.18712,1.246004],"nice":false,"zero":false},"axis":null}}},
{"data":{"name":"levels"},"mark":{"type":"rule","strokeWidth":7,"strokeCap":"butt"},
 "encoding":{"x":{"datum":325.4,"type":"quantitative","scale":{"domain":[-2.25,324.75],"nice":false,"zero":false},"axis":null},"x2":{"datum":333.9},
 "y":{"field":"p","type":"quantitative","scale":{"domain":[1.18712,1.246004],"nice":false,"zero":false},"axis":null},
 "color":{"condition":{"test":"datum.k=='cur'","value":"#000000"},"value":"#0a0aff"}}},
{"data":{"name":"levels"},"mark":{"type":"text","color":"white","fontSize":6,"font":"Liberation Sans","align":"center","baseline":"middle"},
 "encoding":{"x":{"datum":329.65,"type":"quantitative","scale":{"domain":[-2.25,324.75],"nice":false,"zero":false},"axis":null},
 "y":{"field":"p","type":"quantitative","scale":{"domain":[1.18712,1.246004],"nice":false,"zero":false},"axis":null},
 "text":{"field":"t"}}},
{"data":{"values":[{"t":"127.2"}]},"mark":{"type":"text","color":"#3a3aff","fontSize":6,"font":"Liberation Sans","align":"right","baseline":"bottom","dx":-1,"dy":-1},
 "encoding":{"x":{"datum":324.75,"type":"quantitative","scale":{"domain":[-2.25,324.75],"nice":false,"zero":false},"axis":null},
 "y":{"datum":1.2112,"type":"quantitative","scale":{"domain":[1.18712,1.246004],"nice":false,"zero":false},"axis":null},
 "text":{"field":"t"}}},
{"data":{"values":[{"t":"2041 1.2027 1.2035"}]},"mark":{"type":"text","color":"#202020","fontSize":6,"font":"Liberation Sans","align":"left","baseline":"middle"},
 "encoding":{"x":{"datum":-2.25,"type":"quantitative","scale":{"domain":[-2.25,324.75],"nice":false,"zero":false},"axis":null},
 "y":{"datum":1.2451,"type":"quantitative","scale":{"domain":[1.18712,1.246004],"nice":false,"zero":false},"axis":null},
 "text":{"field":"t"}}}
]},
{"width":872,"height":84,
"resolve":{"axis":{"x":"independent","y":"independent"}},
"layer":[
{"data":{"name":"grid"},"mark":{"type":"rule","strokeDash":[2,2],"color":"#505050","strokeWidth":1},
 "encoding":{"x":{"field":"g","type":"quantitative","scale":{"domain":[-2.25,324.75],"nice":false,"zero":false},"axis":null}}},
{"data":{"name":"bars"},"mark":{"type":"rule","strokeWidth":2,"strokeCap":"butt"},
 "encoding":{"x":{"field":"i","type":"quantitative","title":null,"scale":{"domain":[-2.25,324.75],"nice":false,"zero":false},
  "axis":{"orient":"bottom","values":[0,16,32,48,64,80,96,112,128,144,160,176,192,208,224,240,256,272],
   "labelExpr":"['2 Feb 17:00','3 Feb 09:00','6 Feb 01:00','6 Feb 17:00','7 Feb 09:00','8 Feb 01:00','8 Feb 17:00','9 Feb 09:00','10 Feb 01:00','10 Feb 17:00','13 Feb 09:00','14 Feb 01:00','14 Feb 17:00','15 Feb 09:00','16 Feb 01:00','16 Feb 17:00','17 Feb 09:00','20 Feb 01:00'][round(datum.value/16)]",
   "labelAlign":"left","labelOffset":1,"tickSize":2,"labelPadding":0,"labelFontSize":6,"labelOverlap":false,"labelFlush":false,"domain":true,"domainColor":"#999999","domainWidth":1.5}},
 "y":{"field":"v","type":"quantitative","title":null,"scale":{"domain":[0,5830],"nice":false,"zero":true},
  "axis":{"orient":"right","values":[0,5506],"format":"d","tickSize":0,"labelPadding":4,"labelFontSize":6,"labelFlush":false,"domain":true,"domainColor":"#999999","domainWidth":1.5,
   "labelOffset":{"condition":{"test":"datum.value==0","value":-4},"value":1}}},
 "y2":{"datum":0},
 "color":{"condition":{"test":"datum.vd=='u'","value":"#1c961c"},"value":"#ff2424"}}}
]}
]}
